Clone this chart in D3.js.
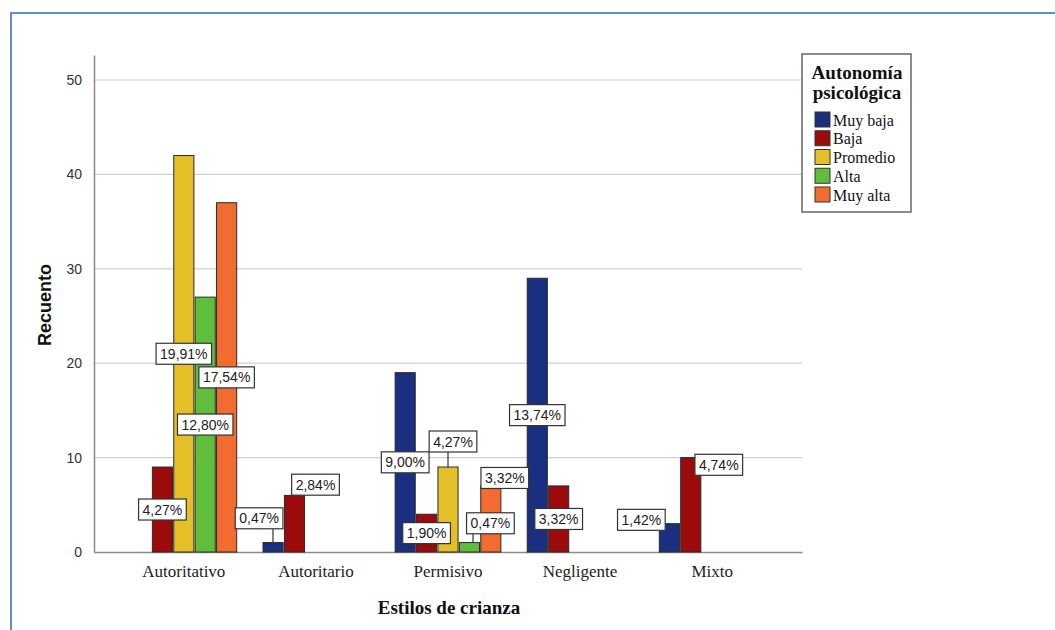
<!DOCTYPE html>
<html>
<head>
<meta charset="utf-8">
<script src="https://cdn.jsdelivr.net/npm/d3@7"></script>
<style>
  body { margin: 0; background: #fff; }
  svg { display: block; }
</style>
</head>
<body>
<script>
const categories = ["Autoritativo", "Autoritario", "Permisivo", "Negligente", "Mixto"]
const series = ["Muy baja", "Baja", "Promedio", "Alta", "Muy alta"]
const seriesColors = ["#1a2f80", "#9b0b0b", "#e4bf28", "#5fbf3d", "#f26c2f"]

// counts per category, in series order
const autoritativo = [0, 9, 42, 27, 37]
const autoritario = [1, 6, 0, 0, 0]
const permisivo = [19, 4, 9, 1, 7]
const negligente = [29, 7, 0, 0, 0]
const mixto = [3, 10, 0, 0, 0]
const counts = [autoritativo, autoritario, permisivo, negligente, mixto]

const yTicks = [0, 10, 20, 30, 40, 50]

// label boxes that SPSS pushed off the bar middle to avoid overlaps
const labelNudges = {
  "Autoritario|Muy baja": [-14, -29],
  "Autoritario|Baja": [21, -39],
  "Permisivo|Promedio": [5, -68],
  "Permisivo|Alta": [21, -24],
  "Permisivo|Muy alta": [14, -41],
  "Mixto|Muy baja": [-28, -18],
  "Mixto|Baja": [28, -40]
}

const total = d3.sum(counts, d => d3.sum(d))
const fmtPct = v => d3.format(".2f")(v).replace(".", ",") + "%"

const W = 1055, H = 630
const plot = {left: 94, right: 802, top: 55, bottom: 552}
const serif = "'Liberation Serif', 'Times New Roman', serif"
const sans = "'Liberation Sans', Arial, sans-serif"

const svg = d3.select("body").append("svg")
  .attr("width", W)
  .attr("height", H)

// outer blue frame
svg.append("rect")
  .attr("x", 11).attr("y", 13)
  .attr("width", 1100).attr("height", 700)
  .attr("fill", "none")
  .attr("stroke", "#5b8ed6")
  .attr("stroke-width", 2)

const x0 = d3.scaleBand()
  .domain(categories)
  .range([plot.left, plot.right])
  .paddingInner(0.18)
  .paddingOuter(0.27)

const x1 = d3.scaleBand()
  .domain(series)
  .range([0, x0.bandwidth()])
  .padding(0.06)

const y = d3.scaleLinear()
  .domain([0, 52.65])
  .range([plot.bottom, plot.top])

const color = d3.scaleOrdinal().domain(series).range(seriesColors)

// gridlines
svg.append("g")
  .selectAll("line")
  .data(yTicks.filter(t => t > 0))
  .join("line")
  .attr("x1", plot.left).attr("x2", plot.right)
  .attr("y1", d => y(d)).attr("y2", d => y(d))
  .attr("stroke", "#cfcfcf")
  .attr("stroke-width", 1.2)

// y axis
const yAxis = svg.append("g")
  .attr("transform", `translate(${plot.left},0)`)
  .call(d3.axisLeft(y).tickValues(yTicks).tickSize(0).tickPadding(12))
yAxis.select(".domain").attr("stroke", "#8a8a8a").attr("stroke-width", 1.5)
yAxis.selectAll("text")
  .attr("font-family", sans)
  .attr("font-size", 14)
  .attr("fill", "#333")

// x axis
const xAxis = svg.append("g")
  .attr("transform", `translate(0,${plot.bottom})`)
  .call(d3.axisBottom(x0).tickSize(0).tickPadding(13))
xAxis.select(".domain").attr("stroke", "#8a8a8a").attr("stroke-width", 1.5)
xAxis.selectAll("text")
  .attr("font-family", serif)
  .attr("font-size", 17)
  .attr("fill", "#222")

// bars
const rows = []
categories.forEach((cat, ci) => {
  series.forEach((s, si) => {
    const v = counts[ci][si]
    if (v > 0) rows.push({cat, s, v})
  })
})

svg.append("g")
  .selectAll("rect")
  .data(rows)
  .join("rect")
  .attr("x", d => x0(d.cat) + x1(d.s))
  .attr("y", d => y(d.v))
  .attr("width", x1.bandwidth())
  .attr("height", d => y(0) - y(d.v))
  .attr("fill", d => color(d.s))
  .attr("stroke", "#2a2a2a")
  .attr("stroke-width", 1)

// percentage labels
const labels = svg.append("g")
const leaders = labels.append("g")
const boxH = 21

rows.forEach(d => {
  const bx0 = x0(d.cat) + x1(d.s)
  const bx1 = bx0 + x1.bandwidth()
  const nudge = labelNudges[d.cat + "|" + d.s] || [0, 0]
  const cx = (bx0 + bx1) / 2 + nudge[0]
  const cy = (y(d.v) + y(0)) / 2 + nudge[1]

  const g = labels.append("g")
  const rect = g.append("rect")
  const txt = g.append("text")
    .attr("x", cx)
    .attr("y", cy)
    .attr("dy", "0.36em")
    .attr("text-anchor", "middle")
    .attr("font-family", sans)
    .attr("font-size", 14)
    .attr("fill", "#222")
    .text(fmtPct(d.v / total * 100))
  const w = txt.node().getComputedTextLength() + 8
  rect.attr("x", cx - w / 2).attr("y", cy - boxH / 2)
    .attr("width", w).attr("height", boxH)
    .attr("fill", "#fff")
    .attr("stroke", "#333")
    .attr("stroke-width", 1.2)

  // leader line from box bottom to bar top when they don't touch
  const boxBottom = cy + boxH / 2
  const top = y(d.v)
  if (nudge[1] !== 0 && boxBottom < top - 1) {
    const lo = Math.max(bx0, cx - w / 2), hi = Math.min(bx1, cx + w / 2)
    const lx = lo < hi ? (lo + hi) / 2 : (cx < bx0 ? bx0 : bx1)
    const sx = Math.max(cx - w / 2, Math.min(cx + w / 2, lx))
    leaders.append("line")
      .attr("x1", sx).attr("y1", boxBottom)
      .attr("x2", lx).attr("y2", top)
      .attr("stroke", "#333")
      .attr("stroke-width", 1.2)
  }
})

// axis titles
svg.append("text")
  .attr("transform", `translate(51,305) rotate(-90)`)
  .attr("text-anchor", "middle")
  .attr("font-family", sans)
  .attr("font-weight", "bold")
  .attr("font-size", 18)
  .attr("fill", "#111")
  .text("Recuento")

svg.append("text")
  .attr("x", (plot.left + plot.right) / 2 + 1)
  .attr("y", 614)
  .attr("text-anchor", "middle")
  .attr("font-family", serif)
  .attr("font-weight", "bold")
  .attr("font-size", 19)
  .attr("fill", "#111")
  .text("Estilos de crianza")

// legend
const legend = svg.append("g")
legend.append("rect")
  .attr("x", 802).attr("y", 54)
  .attr("width", 109).attr("height", 158)
  .attr("fill", "#fff")
  .attr("stroke", "#666")
  .attr("stroke-width", 1.5)

legend.selectAll("text.title")
  .data(["Autonomía", "psicológica"])
  .join("text")
  .attr("class", "title")
  .attr("x", 857)
  .attr("y", (d, i) => 79 + i * 20)
  .attr("text-anchor", "middle")
  .attr("font-family", serif)
  .attr("font-weight", "bold")
  .attr("font-size", 19)
  .attr("fill", "#111")
  .text(d => d)

const item = legend.selectAll("g.item")
  .data(series)
  .join("g")
  .attr("class", "item")
  .attr("transform", (d, i) => `translate(815,${112 + i * 18.75})`)

item.append("rect")
  .attr("width", 15).attr("height", 15)
  .attr("fill", d => color(d))
  .attr("stroke", "#333")
  .attr("stroke-width", 1)

item.append("text")
  .attr("x", 18)
  .attr("y", 13.5)
  .attr("font-family", serif)
  .attr("font-size", 16)
  .attr("fill", "#111")
  .text(d => d)
</script>
</body>
</html>
